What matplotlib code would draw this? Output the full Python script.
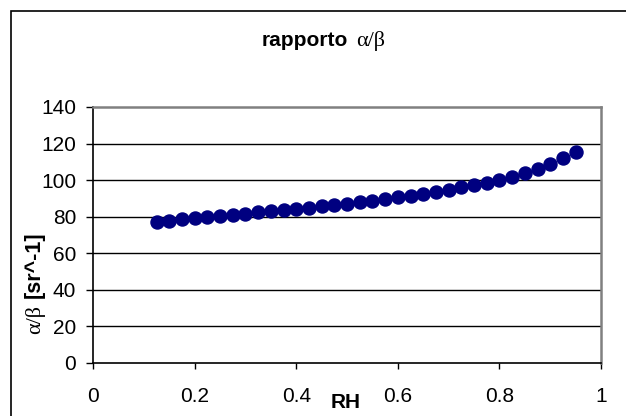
import matplotlib
matplotlib.use('Agg')
import matplotlib.pyplot as plt
from matplotlib.patches import Rectangle

# relative humidity and the lidar ratio alpha/beta read at each step
rh = [0.125, 0.15, 0.175, 0.2, 0.225, 0.25, 0.275, 0.3, 0.325, 0.35,
      0.375, 0.4, 0.425, 0.45, 0.475, 0.5, 0.525, 0.55, 0.575, 0.6,
      0.625, 0.65, 0.675, 0.7, 0.725, 0.75, 0.775, 0.8, 0.825, 0.85,
      0.875, 0.9, 0.925, 0.95]
ratio = [77.1, 77.8, 78.7, 79.3, 79.8, 80.4, 80.9, 81.7, 82.4, 82.9,
         83.5, 84.2, 84.9, 85.7, 86.4, 87.1, 88.0, 88.8, 89.7, 90.6,
         91.5, 92.6, 93.7, 94.8, 96.1, 97.2, 98.6, 100.1, 101.9, 103.9,
         106.1, 108.8, 111.9, 115.2]

xticks = [0, 0.2, 0.4, 0.6, 0.8, 1]
xticklabels = ['0', '0.2', '0.4', '0.6', '0.8', '1']
yticks = [0, 20, 40, 60, 80, 100, 120, 140]

sans = 'Liberation Sans'
serif = 'Liberation Serif'
plt.rcParams['font.family'] = sans

W, H = 626, 416
fig = plt.figure(figsize=(W / 100, H / 100), dpi=100)
fig.patch.set_facecolor('white')

# outer chart frame, runs off the right and bottom edges
fig.patches.append(Rectangle((11 / W, -0.1), 1.2, (H - 11) / H + 0.1,
                             transform=fig.transFigure, fill=False,
                             edgecolor='black', linewidth=1.2))

ax = fig.add_axes([93 / W, (H - 363) / H, (601 - 93) / W, (363 - 107) / H])
ax.set_xlim(0, 1)
ax.set_ylim(0, 140)

for y in yticks[1:-1]:
    ax.axhline(y, color='black', linewidth=1.0, zorder=1)

ax.plot(rh, ratio, linestyle='none', marker='o', markersize=9.4,
        color='#000080', markeredgecolor='#000080', zorder=3, clip_on=False)

ax.spines['left'].set_color('black')
ax.spines['bottom'].set_color('black')
ax.spines['left'].set_linewidth(1.2)
ax.spines['bottom'].set_linewidth(1.2)
ax.spines['top'].set_color('#808080')
ax.spines['right'].set_color('#808080')
ax.spines['top'].set_linewidth(1.8)
ax.spines['right'].set_linewidth(1.8)

ax.set_xticks(xticks)
ax.set_xticklabels(xticklabels)
ax.set_yticks(yticks)
ax.tick_params(axis='x', direction='out', length=4, width=1, pad=13,
               labelsize=15)
ax.tick_params(axis='y', direction='out', length=5, width=1, pad=7,
               labelsize=15)

# title: bold sans word followed by the greek ratio in serif
fig.text(262 / W, (H - 46) / H, 'rapporto', fontsize=15,
         fontweight='bold', ha='left', va='baseline')
fig.text(356 / W, (H - 46) / H, 'α/β', fontsize=16, family=serif,
         ha='left', va='baseline')

# y label, greek part at the bottom
fig.text(35 / W, (H - 334) / H, 'α/β', fontsize=16, family=serif,
         rotation=90, ha='center', va='bottom')
fig.text(34 / W, (H - 298) / H, '[sr^-1]', fontsize=15.5, fontweight='bold',
         rotation=90, ha='center', va='bottom')

fig.text(346 / W, (H - 402) / H, 'RH', fontsize=15, fontweight='bold',
         ha='center', va='center')

fig.savefig('out.png', dpi=100)
